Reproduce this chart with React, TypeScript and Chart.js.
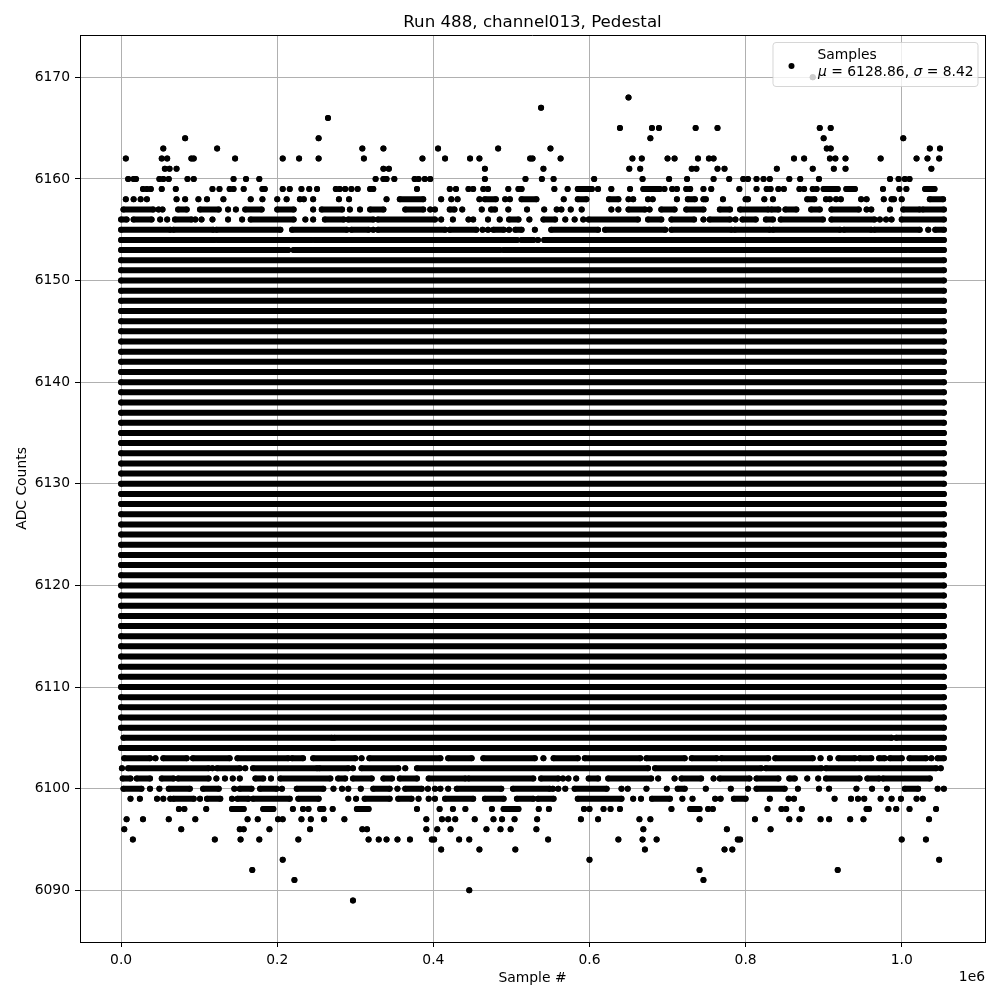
import React, { useEffect, useRef } from "react";
import { Chart, registerables } from "chart.js";
Chart.register(...registerables);

const FONT = '"DejaVu Sans", "Liberation Sans", sans-serif';

// ---- text ----
const titleText = "Run 488, channel013, Pedestal";
const xLabel = "Sample #";
const yLabel = "ADC Counts";
const xOffsetText = "1e6";
const legendLabel = "Samples";
const muValue = "6128.86";
const sigmaValue = "8.42";

// ---- axes (x in units of 1e6 samples) ----
const xMin = -0.0527;
const xMax = 1.1067;
const yMin = 6084.91;
const yMax = 6174.16;
const xTicks = [0.0, 0.2, 0.4, 0.6, 0.8, 1.0];
const yTicks = [6090, 6100, 6110, 6120, 6130, 6140, 6150, 6160, 6170];

// ---- data: first and last sample index (1e6) ----
const sampleFirst = 0.0;
const sampleLast = 1.054;

// ADC levels that are hit continuously across the whole run
const solidLevels = [
  6106, 6107, 6108, 6109, 6110, 6111, 6112, 6113, 6114, 6115, 6116, 6117,
  6118, 6119, 6120, 6121, 6122, 6123, 6124, 6125, 6126, 6127, 6128, 6129,
  6130, 6131, 6132, 6133, 6134, 6135, 6136, 6137, 6138, 6139, 6140, 6141,
  6142, 6143, 6144, 6145, 6146, 6147, 6148, 6149, 6150, 6151, 6152,
];

// Partial levels: single samples (number) or dense runs [from, to] (1e6)
type Run = number | [number, number];
const r6170: Run[] = [0.886];
const r6168: Run[] = [0.65];
const r6167: Run[] = [0.538];
const r6166: Run[] = [0.265];
const r6165: Run[] = [0.639, 0.68, 0.689, 0.736, 0.764, 0.895, 0.909];
const r6164: Run[] = [0.082, 0.253, 0.678, 0.9, 1.002];
const r6163: Run[] = [0.054, 0.123, 0.309, 0.336, 0.406, 0.483, 0.55, 0.904, 0.909, 1.036, 1.049];
const r6162: Run[] = [0.006, 0.052, 0.059, 0.09, 0.093, 0.146, 0.207, 0.228, 0.253, 0.311, 0.386, 0.415, 0.447, 0.459, 0.524, 0.527, 0.563, 0.655, 0.667, 0.7, 0.709, 0.739, 0.753, 0.759, 0.862, 0.875, 0.908, 0.915, 0.928, 0.973, 1.019, 1.033, 1.048];
const r6161: Run[] = [0.056, 0.062, 0.071, 0.336, 0.343, 0.466, 0.541, 0.651, 0.665, 0.731, 0.737, 0.764, 0.773, 0.84, 0.886, 0.913, 0.928, 1.038];
const r6160: Run[] = [0.009, 0.016, 0.019, 0.049, 0.054, 0.061, 0.085, 0.093, 0.144, 0.16, 0.177, 0.326, 0.336, 0.34, 0.35, 0.376, 0.381, 0.389, 0.396, 0.466, 0.518, 0.539, 0.554, 0.606, 0.668, 0.702, 0.725, 0.759, 0.779, 0.797, 0.803, 0.814, 0.823, 0.831, 0.856, 0.87, 0.894, 0.985, 0.996, 1.004, 1.01];
const r6159: Run[] = [0.028, 0.033, 0.038, 0.052, 0.07, 0.117, 0.126, 0.139, 0.144, 0.157, 0.181, 0.184, 0.207, 0.216, 0.231, 0.241, 0.251, 0.275, 0.28, 0.287, 0.295, 0.303, 0.319, 0.323, 0.379, 0.421, 0.429, 0.445, 0.451, 0.464, 0.47, 0.496, 0.509, 0.513, 0.555, 0.572, [0.585, 0.603], 0.611, 0.628, 0.652, [0.669, 0.69], 0.696, 0.706, 0.712, 0.724, 0.729, 0.746, 0.756, 0.792, 0.814, 0.827, 0.832, 0.842, 0.849, 0.869, 0.875, 0.886, 0.891, [0.9, 0.918], [0.929, 0.94], 0.976, 0.997, 1.006, [1.03, 1.042]];
const r6158: Run[] = [0.006, 0.016, 0.025, 0.033, 0.071, 0.082, 0.099, 0.11, 0.131, 0.166, 0.181, 0.2, 0.212, 0.229, 0.234, 0.246, 0.279, 0.292, 0.34, [0.357, 0.387], 0.41, 0.423, 0.431, 0.459, [0.466, 0.48], 0.492, 0.498, [0.513, 0.532], 0.567, [0.585, 0.596], [0.625, 0.637], 0.65, 0.656, 0.675, 0.681, 0.712, [0.726, 0.735], 0.746, 0.749, 0.771, 0.8, 0.803, 0.824, 0.835, [0.879, 0.888], 0.903, 0.908, 0.916, 0.922, 0.948, 0.955, 0.977, [0.987, 0.99], 1.0, [1.036, 1.053]];
const r6157: Run[] = [[0.003, 0.041], 0.048, 0.053, [0.073, 0.084], [0.101, 0.125], 0.137, 0.147, [0.159, 0.18], [0.2, 0.221], 0.246, [0.257, 0.283], 0.293, 0.306, [0.319, 0.336], [0.364, 0.387], 0.396, 0.402, [0.421, 0.427], 0.437, 0.462, [0.474, 0.479], 0.496, 0.52, 0.542, 0.558, 0.564, 0.576, 0.59, 0.628, 0.637, [0.65, 0.671], 0.677, [0.692, 0.709], [0.724, 0.746], [0.767, 0.78], [0.793, 0.829], [0.833, 0.842], [0.851, 0.865], [0.884, 0.895], [0.91, 0.945], 0.955, 0.961, 0.985, [1.002, 1.023], [1.027, 1.054]];
const r6156: Run[] = [[0.0, 0.007], [0.016, 0.039], 0.05, 0.059, [0.069, 0.09], 0.095, 0.103, 0.117, 0.137, 0.155, [0.166, 0.221], 0.236, 0.246, [0.261, 0.285], [0.291, 0.323], [0.329, 0.402], 0.41, 0.425, 0.445, 0.451, 0.47, 0.485, [0.497, 0.509], 0.523, [0.541, 0.556], 0.569, 0.581, 0.592, [0.599, 0.662], [0.675, 0.692], [0.705, 0.734], 0.746, [0.754, 0.78], 0.787, [0.796, 0.813], [0.826, 0.835], [0.845, 0.899], [0.91, 0.965], 0.972, 0.98, 0.987, [1.0, 1.054]];
const r6155: Run[] = [[0.0, 0.063], [0.067, 0.118], [0.122, 0.204], [0.219, 0.289], [0.295, 0.317], 0.323, [0.329, 0.415], [0.421, 0.455], 0.463, 0.47, [0.477, 0.49], 0.497, [0.505, 0.513], 0.53, [0.551, 0.611], [0.62, 0.697], [0.705, 0.782], [0.786, 0.831], [0.835, 0.921], [0.926, 0.961], [0.965, 1.023], 1.034, [1.043, 1.054]];
const r6154: Run[] = [[0.0, 0.12], [0.124, 0.152], [0.155, 0.244], [0.248, 0.507], [0.513, 0.528], 0.534, [0.542, 1.054]];
const r6153: Run[] = [[0.0, 0.024], [0.027, 0.103], [0.105, 0.214], [0.221, 0.244], [0.247, 0.485], [0.49, 0.505], [0.508, 0.547], [0.55, 0.596], [0.6, 1.006], [1.01, 1.054]];

const r6105: Run[] = [[0.003, 0.27], [0.273, 0.987], [0.993, 1.054]];
const r6104: Run[] = [[0.0, 0.157], [0.161, 0.278], [0.28, 0.318], [0.321, 0.876], [0.88, 0.974], [0.977, 1.054]];
const r6103: Run[] = [[0.004, 0.037], 0.044, [0.054, 0.084], [0.092, 0.139], [0.149, 0.214], [0.219, 0.233], [0.246, 0.3], 0.308, [0.318, 0.409], [0.419, 0.449], [0.464, 0.53], 0.541, [0.554, 0.585], [0.594, 0.665], [0.673, 0.722], [0.731, 0.763], [0.769, 0.829], [0.838, 0.886], 0.896, 0.908, [0.919, 0.94], [0.946, 0.961], [0.971, 0.978], [0.985, 1.0], [1.01, 1.031], 1.038, [1.046, 1.054]];
const r6102: Run[] = [0.001, [0.009, 0.112], 0.117, [0.123, 0.152], 0.159, [0.169, 0.251], [0.254, 0.291], 0.297, [0.308, 0.355], 0.364, [0.379, 0.675], [0.684, 0.82], [0.826, 0.897], [0.903, 1.044], 1.05];
const r6101: Run[] = [[0.002, 0.012], [0.02, 0.037], [0.052, 0.067], [0.073, 0.112], 0.122, 0.133, 0.143, 0.152, [0.172, 0.182], 0.192, [0.204, 0.268], [0.278, 0.287], [0.297, 0.321], [0.336, 0.347], [0.357, 0.379], [0.394, 0.441], [0.445, 0.528], [0.538, 0.56], 0.566, 0.573, 0.583, [0.599, 0.611], [0.624, 0.679], 0.688, 0.709, [0.718, 0.743], 0.759, [0.767, 0.805], [0.814, 0.842], [0.856, 0.863], 0.879, 0.893, [0.903, 0.946], [0.956, 0.971], [0.976, 1.036]];
const r6100: Run[] = [[0.003, 0.026], 0.037, 0.049, [0.061, 0.088], [0.105, 0.125], 0.145, [0.152, 0.167], [0.178, 0.199], 0.206, [0.225, 0.259], 0.272, 0.283, 0.291, 0.307, [0.323, 0.344], 0.354, [0.364, 0.385], 0.393, 0.402, 0.409, 0.419, [0.43, 0.487], [0.502, 0.549], 0.553, 0.56, 0.569, [0.581, 0.622], 0.641, 0.649, 0.673, 0.699, [0.713, 0.722], 0.749, 0.781, 0.803, [0.814, 0.85], 0.867, 0.894, 0.907, 0.942, 0.962, 0.981, [1.004, 1.021], 1.046, 1.054];
const r6099: Run[] = [0.012, 0.024, 0.046, 0.054, 0.063, [0.067, 0.093], 0.101, [0.11, 0.127], 0.142, [0.149, 0.163], [0.169, 0.216], [0.227, 0.253], 0.291, 0.301, [0.312, 0.344], [0.355, 0.372], 0.381, 0.394, 0.402, [0.415, 0.451], [0.466, 0.49], [0.507, 0.528], [0.534, 0.554], [0.585, 0.641], 0.656, 0.666, [0.68, 0.703], 0.719, 0.732, 0.761, 0.768, [0.785, 0.8], 0.831, 0.855, 0.862, 0.914, 0.935, 0.944, 0.952, 0.973, 0.987, 0.999, 1.019, 1.027];
const r6098: Run[] = [0.074, 0.081, 0.109, [0.142, 0.157], [0.182, 0.195], 0.22, 0.233, 0.24, 0.255, 0.259, 0.271, [0.302, 0.317], 0.379, 0.408, 0.425, 0.441, 0.475, [0.49, 0.509], 0.535, 0.548, 0.593, 0.6, 0.618, 0.627, 0.639, 0.705, [0.729, 0.741], 0.752, 0.758, 0.828, 0.846, 0.852, 0.872, [0.955, 0.958], 0.983, 0.993, 1.01, 1.044];
const r6097: Run[] = [0.007, 0.028, 0.061, 0.095, 0.162, 0.175, 0.201, 0.207, 0.231, 0.243, 0.26, 0.286, 0.391, 0.411, 0.419, 0.428, 0.453, 0.477, 0.488, 0.504, 0.533, 0.589, 0.611, 0.664, 0.678, 0.741, 0.812, 0.856, 0.869, 0.896, 0.907, 0.934, 0.951, 1.035];
const r6096: Run[] = [0.004, 0.077, 0.152, 0.157, 0.19, 0.242, 0.309, 0.315, 0.391, 0.405, 0.422, 0.468, 0.486, 0.499, 0.532, 0.669, 0.776, 0.832];
const r6095: Run[] = [0.015, 0.12, 0.153, 0.177, 0.227, 0.317, 0.33, 0.34, 0.354, 0.37, 0.398, 0.401, 0.433, 0.446, 0.547, 0.637, 0.668, 0.686, 0.79, 0.793, 1.0, 1.031];
const r6094: Run[] = [0.41, 0.459, 0.505, 0.671, 0.773, 0.783];
const r6093: Run[] = [0.207, 0.6, 1.048];
const r6092: Run[] = [0.168, 0.741, 0.918];
const r6091: Run[] = [0.222, 0.746];
const r6090: Run[] = [0.446];
const r6089: Run[] = [0.297];

const partialRows: [number, Run[]][] = [
  [6170, r6170], [6168, r6168], [6167, r6167], [6166, r6166], [6165, r6165],
  [6164, r6164], [6163, r6163], [6162, r6162], [6161, r6161], [6160, r6160],
  [6159, r6159], [6158, r6158], [6157, r6157], [6156, r6156], [6155, r6155],
  [6154, r6154], [6153, r6153],
  [6105, r6105], [6104, r6104], [6103, r6103], [6102, r6102], [6101, r6101],
  [6100, r6100], [6099, r6099], [6098, r6098], [6097, r6097], [6096, r6096],
  [6095, r6095], [6094, r6094], [6093, r6093], [6092, r6092], [6091, r6091],
  [6090, r6090], [6089, r6089],
];

type Pt = { x: number; y: number | null };

function buildPoints(): Pt[] {
  const pts: Pt[] = [];
  for (const v of solidLevels) {
    pts.push({ x: sampleFirst, y: v }, { x: sampleLast, y: v }, { x: sampleLast, y: null });
  }
  for (const [v, runs] of partialRows) {
    for (const r of runs) {
      if (typeof r === "number") {
        pts.push({ x: r, y: v }, { x: r, y: null });
      } else {
        pts.push({ x: r[0], y: v }, { x: r[1], y: v }, { x: r[1], y: null });
      }
    }
  }
  return pts;
}

const TICK_FONT = { family: '"DejaVu Sans", "Liberation Sans", sans-serif', size: 13.89 };

export default function App() {
  const ref = useRef<HTMLCanvasElement>(null);

  useEffect(() => {
    const canvas = ref.current;
    if (!canvas) return;

    const decor = {
      id: "decor",
      afterDraw(chart: any) {
        const { ctx, chartArea: a } = chart;
        ctx.save();
        // top and right spines
        ctx.strokeStyle = "#000";
        ctx.lineWidth = 1;
        ctx.beginPath();
        ctx.moveTo(a.left, a.top + 0.5);
        ctx.lineTo(a.right + 0.5, a.top + 0.5);
        ctx.moveTo(a.right + 0.5, a.top);
        ctx.lineTo(a.right + 0.5, a.bottom + 1);
        ctx.stroke();

        ctx.fillStyle = "#000";
        // title
        ctx.font = `16.67px ${FONT}`;
        ctx.textAlign = "center";
        ctx.textBaseline = "alphabetic";
        ctx.fillText(titleText, (a.left + a.right) / 2, 27);

        // x label
        ctx.font = `13.89px ${FONT}`;
        ctx.fillText(xLabel, (a.left + a.right) / 2, 981.5);

        // offset text
        ctx.textAlign = "right";
        ctx.fillText(xOffsetText, a.right, 981);

        // y label
        ctx.save();
        ctx.translate(26, (a.top + a.bottom) / 2);
        ctx.rotate(-Math.PI / 2);
        ctx.textAlign = "center";
        ctx.fillText(yLabel, 0, 0);
        ctx.restore();

        // legend box
        const bx = 773, by = 42.5, bw = 205, bh = 44, rr = 3;
        ctx.beginPath();
        ctx.moveTo(bx + rr, by);
        ctx.lineTo(bx + bw - rr, by);
        ctx.quadraticCurveTo(bx + bw, by, bx + bw, by + rr);
        ctx.lineTo(bx + bw, by + bh - rr);
        ctx.quadraticCurveTo(bx + bw, by + bh, bx + bw - rr, by + bh);
        ctx.lineTo(bx + rr, by + bh);
        ctx.quadraticCurveTo(bx, by + bh, bx, by + bh - rr);
        ctx.lineTo(bx, by + rr);
        ctx.quadraticCurveTo(bx, by, bx + rr, by);
        ctx.closePath();
        ctx.fillStyle = "rgba(255,255,255,0.8)";
        ctx.fill();
        ctx.strokeStyle = "rgba(204,204,204,0.8)";
        ctx.lineWidth = 1;
        ctx.stroke();

        // legend marker
        ctx.fillStyle = "#000";
        ctx.beginPath();
        ctx.arc(791.5, 66, 3, 0, Math.PI * 2);
        ctx.fill();

        // legend text
        ctx.textAlign = "left";
        ctx.font = `13.89px ${FONT}`;
        ctx.fillText(legendLabel, 817.5, 59);
        let tx = 818;
        const ty = 76;
        const parts: [string, boolean][] = [
          ["\u03bc", true],
          [` = ${muValue}, `, false],
          ["\u03c3", true],
          [` = ${sigmaValue}`, false],
        ];
        for (const [t, it] of parts) {
          ctx.font = `${it ? "italic " : ""}13.89px ${FONT}`;
          ctx.fillText(t, tx, ty);
          tx += ctx.measureText(t).width;
        }
        ctx.restore();
      },
    };

    const chart = new Chart(canvas, {
      type: "scatter",
      data: {
        datasets: [
          {
            label: legendLabel,
            data: buildPoints() as any,
            showLine: true,
            spanGaps: false,
            borderColor: "#000",
            borderWidth: 6,
            borderCapStyle: "round",
            borderJoinStyle: "round",
            tension: 0,
            pointRadius: 3,
            pointHoverRadius: 3,
            pointBackgroundColor: "#000",
            pointBorderWidth: 0,
          } as any,
        ],
      },
      options: {
        responsive: false,
        animation: false,
        devicePixelRatio: 1,
        events: [],
        layout: { padding: { left: 0, right: 15, top: 35, bottom: 0 }, autoPadding: false } as any,
        plugins: {
          legend: { display: false },
          tooltip: { enabled: false },
          title: { display: false },
        },
        scales: {
          x: {
            type: "linear",
            min: xMin,
            max: xMax,
            afterBuildTicks: (s: any) => {
              s.ticks = xTicks.map((value) => ({ value }));
            },
            afterFit: (s: any) => {
              s.height = 58;
            },
            ticks: {
              font: TICK_FONT,
              color: "#000",
              padding: 5,
              maxRotation: 0,
              autoSkip: false,
              callback: (v: any) => Number(v).toFixed(1),
            },
            grid: { color: "#b0b0b0", lineWidth: 1, tickColor: "#000", tickLength: 5, tickWidth: 1 },
            border: { display: true, color: "#000", width: 1 },
          },
          y: {
            type: "linear",
            min: yMin,
            max: yMax,
            afterBuildTicks: (s: any) => {
              s.ticks = yTicks.map((value) => ({ value }));
            },
            afterFit: (s: any) => {
              s.width = 80;
            },
            ticks: {
              font: TICK_FONT,
              color: "#000",
              padding: 5,
              autoSkip: false,
              callback: (v: any) => String(v),
            },
            grid: { color: "#b0b0b0", lineWidth: 1, tickColor: "#000", tickLength: 5, tickWidth: 1 },
            border: { display: true, color: "#000", width: 1 },
          },
        },
      },
      plugins: [decor],
    });

    return () => chart.destroy();
  }, []);

  return (
    <div style={{ position: "absolute", left: 0, top: 0, width: 1000, height: 1000, background: "#fff" }}>
      <canvas ref={ref} width={1000} height={1000} style={{ display: "block" }} />
    </div>
  );
}
